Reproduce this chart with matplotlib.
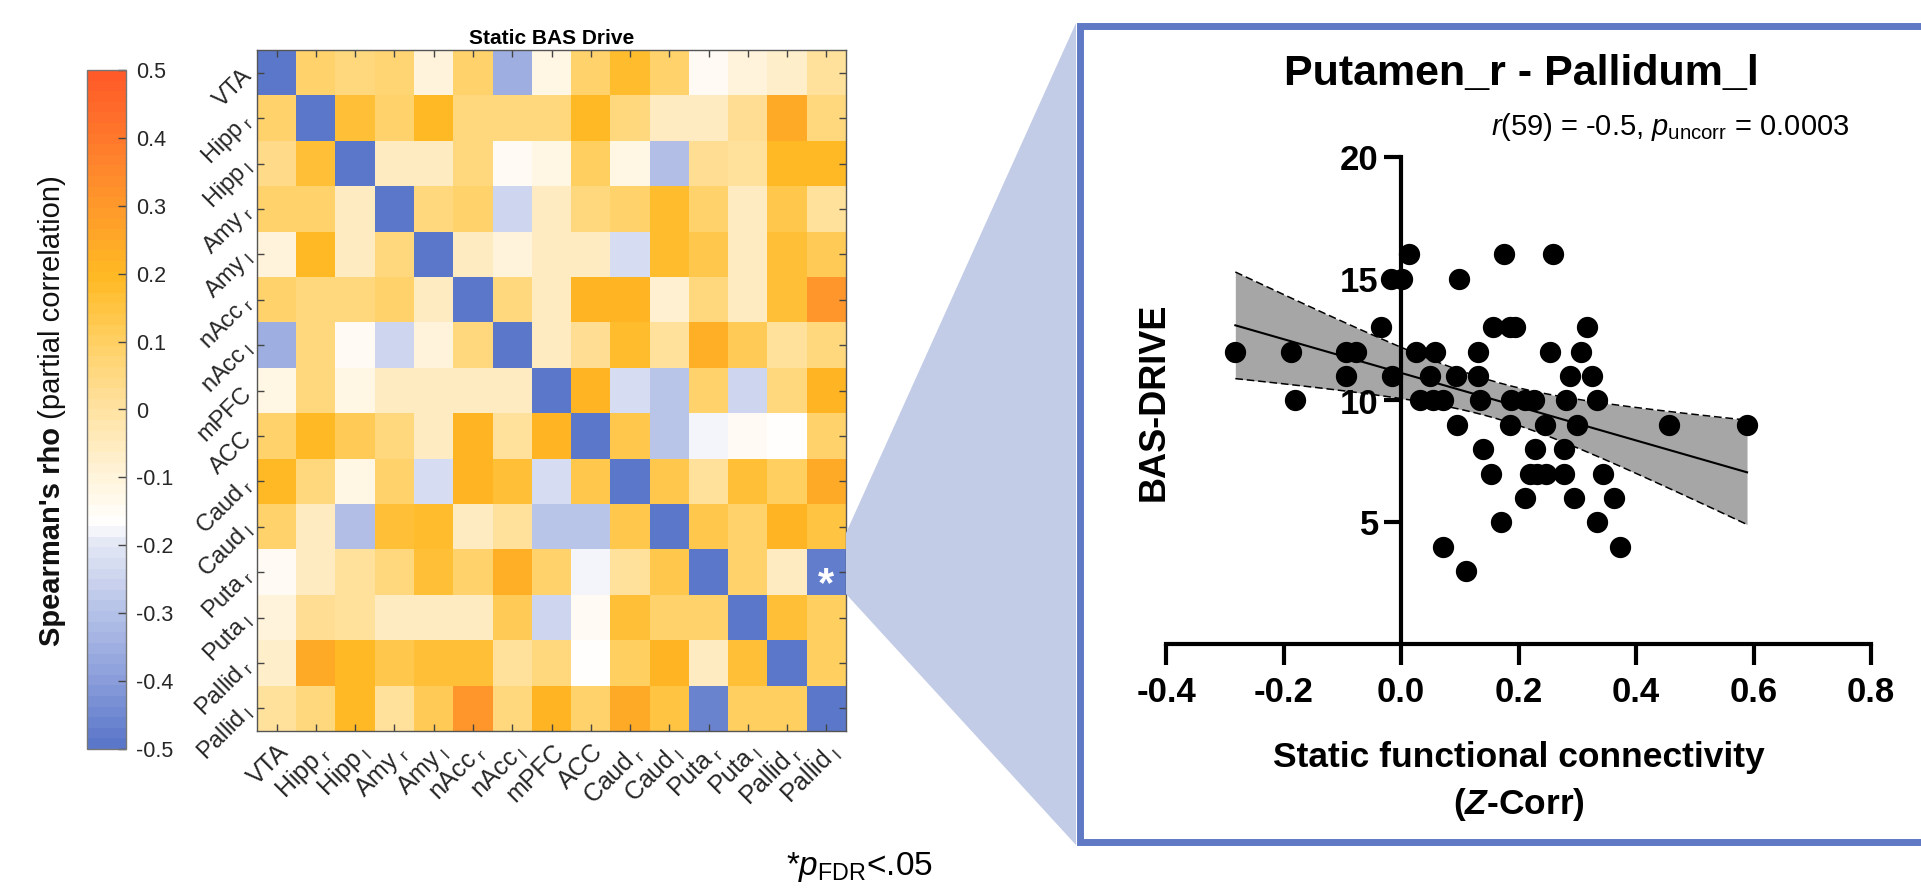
import numpy as np
import matplotlib
matplotlib.use("Agg")
import matplotlib.pyplot as plt
from matplotlib.colors import LinearSegmentedColormap
from matplotlib.patches import Polygon, Rectangle

plt.rcParams['font.family'] = 'Liberation Sans'
plt.rcParams['mathtext.fontset'] = 'custom'
plt.rcParams['mathtext.rm'] = 'Liberation Sans'
plt.rcParams['mathtext.it'] = 'Liberation Sans:italic'
plt.rcParams['mathtext.bf'] = 'Liberation Sans:bold'
plt.rcParams['mathtext.bfit'] = 'Liberation Sans:italic:bold'

# ---- data -------------------------------------------------------------
regions = ["VTA", r"Hipp$_{\ \mathrm{r}}$", r"Hipp$_{\ \mathrm{l}}$", r"Amy$_{\ \mathrm{r}}$",
           r"Amy$_{\ \mathrm{l}}$", r"nAcc$_{\ \mathrm{r}}$", r"nAcc$_{\ \mathrm{l}}$", "mPFC",
           "ACC", r"Caud$_{\ \mathrm{r}}$", r"Caud$_{\ \mathrm{l}}$", r"Puta$_{\ \mathrm{r}}$",
           r"Puta$_{\ \mathrm{l}}$", r"Pallid$_{\ \mathrm{r}}$", r"Pallid$_{\ \mathrm{l}}$"]

# partial Spearman rho (diagonal shown at the colour floor)
rho = [
    [-0.50, 0.08, 0.06, 0.07, -0.10, 0.08, -0.35, -0.12, 0.08, 0.18, 0.08, -0.15, -0.10, -0.07, 0.00],
    [0.08, -0.50, 0.16, 0.08, 0.20, 0.05, 0.05, 0.05, 0.20, 0.05, -0.05, -0.05, 0.03, 0.24, 0.05],
    [0.04, 0.16, -0.50, -0.06, -0.05, 0.05, -0.15, -0.12, 0.10, -0.12, -0.30, 0.02, 0.01, 0.19, 0.19],
    [0.08, 0.08, -0.06, -0.50, 0.05, 0.08, -0.25, -0.06, 0.05, 0.08, 0.18, 0.08, -0.06, 0.14, 0.01],
    [-0.10, 0.20, -0.05, 0.05, -0.50, -0.06, -0.10, -0.05, -0.05, -0.22, 0.18, 0.14, -0.06, 0.16, 0.12],
    [0.08, 0.05, 0.05, 0.08, -0.06, -0.50, 0.05, -0.06, 0.21, 0.21, -0.08, 0.05, -0.06, 0.16, 0.30],
    [-0.35, 0.05, -0.15, -0.25, -0.10, 0.05, -0.50, -0.05, 0.02, 0.18, 0.01, 0.23, 0.12, 0.01, 0.05],
    [-0.12, 0.05, -0.12, -0.06, -0.05, -0.06, -0.05, -0.50, 0.21, -0.22, -0.29, 0.08, -0.24, 0.05, 0.21],
    [0.08, 0.20, 0.12, 0.05, -0.05, 0.21, 0.01, 0.21, -0.50, 0.14, -0.29, -0.18, -0.15, -0.17, 0.08],
    [0.19, 0.05, -0.12, 0.08, -0.22, 0.21, 0.17, -0.22, 0.14, -0.50, 0.14, 0.01, 0.17, 0.10, 0.24],
    [0.08, -0.05, -0.31, 0.17, 0.18, -0.06, 0.01, -0.29, -0.29, 0.14, -0.50, 0.14, 0.08, 0.21, 0.15],
    [-0.15, -0.05, 0.01, 0.05, 0.17, 0.08, 0.23, 0.08, -0.18, 0.01, 0.14, -0.50, 0.08, -0.05, -0.47],
    [-0.10, 0.02, 0.01, -0.06, -0.06, -0.06, 0.12, -0.24, -0.15, 0.17, 0.08, 0.08, -0.50, 0.17, 0.10],
    [-0.07, 0.24, 0.19, 0.14, 0.16, 0.16, 0.01, 0.05, -0.17, 0.10, 0.21, -0.05, 0.17, -0.50, 0.10],
    [0.01, 0.05, 0.19, 0.01, 0.12, 0.30, 0.05, 0.21, 0.08, 0.24, 0.15, -0.46, 0.10, 0.10, -0.50],
]
sig_cell = (11, 14)   # row, col with FDR-significant result

cbar_ticks = [-0.5, -0.4, -0.3, -0.2, -0.1, 0, 0.1, 0.2, 0.3, 0.4, 0.5]
cbar_labels = ['-0.5', '-0.4', '-0.3', '-0.2', '-0.1', '0',
               '0.1', '0.2', '0.3', '0.4', '0.5']

# scatter: static FC (Z) vs BAS-DRIVE
fc = [-0.282, -0.187, -0.181, -0.093, -0.077, -0.093, -0.034, -0.015, -0.017, 0.002,
      0.013, 0.026, 0.058, 0.032, 0.054, 0.071, 0.049, 0.099, 0.093, 0.095,
      0.071, 0.110, 0.131, 0.131, 0.135, 0.140, 0.153, 0.157, 0.185, 0.194,
      0.176, 0.170, 0.187, 0.185, 0.211, 0.226, 0.211, 0.228, 0.219, 0.232,
      0.247, 0.245, 0.254, 0.258, 0.277, 0.277, 0.280, 0.288, 0.295, 0.299,
      0.307, 0.316, 0.325, 0.333, 0.333, 0.344, 0.363, 0.372, 0.456, 0.589]
bas = [12, 12, 10, 12, 12, 11, 13, 11, 15, 15,
       16, 12, 12, 10, 10, 10, 11, 15, 11, 9,
       4, 3, 12, 11, 10, 8, 7, 13, 13, 13,
       16, 5, 10, 9, 10, 10, 6, 8, 7, 7,
       7, 9, 12, 16, 8, 7, 10, 11, 6, 9,
       12, 13, 11, 10, 5, 7, 6, 4, 9, 9]
xticks = [-0.4, -0.2, 0.0, 0.2, 0.4, 0.6, 0.8]
yticks = [5, 10, 15, 20]
t_crit = 2.00   # two-sided 95%, df = n - 2

# ---- colormap -----------------------------------------------------------
nodes = [(-0.5, '#5b77c9'), (-0.4, '#8c9fdb'), (-0.3, '#b6c2e8'), (-0.2, '#e4e8f5'),
         (-0.17, '#ffffff'), (-0.1, '#fff3da'), (0.0, '#ffe3a2'), (0.1, '#ffd063'),
         (0.2, '#ffb923'), (0.3, '#ff9a2b'), (0.4, '#ff7a2c'), (0.5, '#ff5a28')]
cmap = LinearSegmentedColormap.from_list(
    'basdrive', [((v + 0.5), c) for v, c in nodes], N=64)

W, H = 1921, 888
fig = plt.figure(figsize=(W / 100, H / 100), dpi=100)


def fr(x0, y0, x1, y1):
    # pixel box (top-left origin) -> figure fraction rect
    return [x0 / W, 1 - y1 / H, (x1 - x0) / W, (y1 - y0) / H]


# connector wedge (behind everything)
wedge = Polygon([(846 / W, 1 - 533 / H), (1076 / W, 1 - 23 / H),
                 (1076 / W, 1 - 845 / H), (846 / W, 1 - 594 / H)],
                closed=True, transform=fig.transFigure, facecolor='#c3cce7',
                edgecolor='none', zorder=0)
fig.patches.append(wedge)

# ---- heatmap --------------------------------------------------------------
ax = fig.add_axes(fr(257, 50, 846, 731))
M = np.array(rho)
im = ax.imshow(M, cmap=cmap, vmin=-0.5, vmax=0.5, aspect='auto')
n = len(regions)
ax.set_xticks(range(n))
ax.set_yticks(range(n))
ax.set_xticklabels(regions, rotation=45, ha='right', va='top',
                   rotation_mode='anchor', fontsize=18, color='#262626')
ax.set_yticklabels(regions, rotation=45, ha='right', va='center',
                   rotation_mode='anchor', fontsize=17, color='#262626')
ax.tick_params(direction='in', length=5, width=1, color='#444444',
               top=True, right=True, pad=6)
for s in ax.spines.values():
    s.set_color('#555555')
    s.set_linewidth(1)
ax.set_title('Static BAS Drive', fontsize=15, fontweight='bold', pad=4)
ax.text(sig_cell[1], sig_cell[0] + 0.28, '*', color='white', fontsize=30,
        fontweight='bold', ha='center', va='center')

# ---- colorbar ---------------------------------------------------------------
cax = fig.add_axes(fr(87, 70, 126, 749))
cb = fig.colorbar(im, cax=cax, ticks=cbar_ticks)
cb.ax.set_yticklabels(cbar_labels)
cb.ax.tick_params(direction='in', length=6, width=1, color='#444444',
                  labelsize=15.5, pad=7, labelcolor='#262626')
cb.outline.set_edgecolor('#777777')
cb.outline.set_linewidth(1)

renderer = fig.canvas.get_renderer()
t1 = fig.text(52 / W, 0.5, "Spearman's rho", rotation=90, fontsize=21,
              fontweight='bold', ha='center', va='bottom', color='#111111')
t2 = fig.text(52 / W, 0.5, " (partial correlation)", rotation=90, fontsize=21,
              ha='center', va='bottom', color='#111111')
h1 = t1.get_window_extent(renderer).height
h2 = t2.get_window_extent(renderer).height
yc = (H - 411)
start = yc - (h1 + h2) / 2
t1.set_y(start / H)
t2.set_y((start + h1) / H)

fig.text(859 / W, 1 - 875 / H, r"*$\mathit{p}_\mathrm{FDR}$<.05", fontsize=24,
         ha='center', va='baseline')

# ---- scatter panel ----------------------------------------------------------
frame = Rectangle((1079.5 / W, 1 - 841.5 / H), 0.6, (841.5 - 26.5) / H,
                  transform=fig.transFigure, facecolor='white',
                  edgecolor='#5f79c4', linewidth=5.0, zorder=1)
fig.patches.append(frame)

ax2 = fig.add_axes(fr(1166, 157, 1871, 644))
ax2.set_zorder(2)
ax2.patch.set_alpha(0)
x = np.array(fc)
y = np.array(bas, dtype=float)
slope, icpt = np.polyfit(x, y, 1)
xs = np.linspace(x.min(), x.max(), 200)
yfit = icpt + slope * xs
resid = y - (icpt + slope * x)
s_err = np.sqrt(np.sum(resid ** 2) / (len(x) - 2))
se = s_err * np.sqrt(1 / len(x) + (xs - x.mean()) ** 2 / np.sum((x - x.mean()) ** 2))
ax2.fill_between(xs, yfit - t_crit * se, yfit + t_crit * se, color='#a6a6a6',
                 linewidth=0, zorder=1)
ax2.plot(xs, yfit + t_crit * se, color='black', linestyle=(0, (5, 2.5)), lw=1.1, zorder=2)
ax2.plot(xs, yfit - t_crit * se, color='black', linestyle=(0, (5, 2.5)), lw=1.1, zorder=2)
ax2.plot(xs, yfit, color='black', lw=1.5, zorder=2)
ax2.scatter(x, y, s=205, color='black', zorder=3, clip_on=False)

ax2.set_xlim(-0.4, 0.8)
ax2.set_ylim(0, 20)
ax2.set_xticks(xticks)
ax2.set_xticklabels([f"{v:.1f}" for v in xticks])
ax2.set_yticks(yticks)
ax2.spines['top'].set_visible(False)
ax2.spines['right'].set_visible(False)
ax2.spines['left'].set_position(('data', 0))
ax2.spines['left'].set_linewidth(3)
ax2.spines['bottom'].set_linewidth(3)
ax2.tick_params(axis='x', direction='out', length=15, width=3, pad=8,
                labelsize=25)
ax2.tick_params(axis='y', direction='out', length=12, width=3, pad=4,
                labelsize=25)
for lab in ax2.get_xticklabels() + ax2.get_yticklabels():
    lab.set_fontweight('bold')

fig.text(1521 / W, 1 - 74 / H, 'Putamen_r - Pallidum_l', fontsize=31,
         fontweight='bold', ha='center', va='center', zorder=5)
fig.text(1849 / W, 1 - 127 / H,
         r"$\mathit{r}$(59) = -0.5, $\mathit{p}_\mathrm{uncorr}$ = 0.0003",
         fontsize=21, ha='right', va='center', zorder=5)
fig.text(1154 / W, 1 - 402 / H, 'BAS-DRIVE', fontsize=26, fontweight='bold',
         rotation=90, ha='center', va='center', zorder=5)
fig.text(1519 / W, 1 - 757 / H, 'Static functional connectivity', fontsize=25.5,
         fontweight='bold', ha='center', va='center', zorder=5)
fig.text(1519 / W, 1 - 804 / H, r"($\mathbfit{Z}$-Corr)", fontsize=25.5,
         fontweight='bold', ha='center', va='center', zorder=5)

fig.savefig('out.png', dpi=100)
